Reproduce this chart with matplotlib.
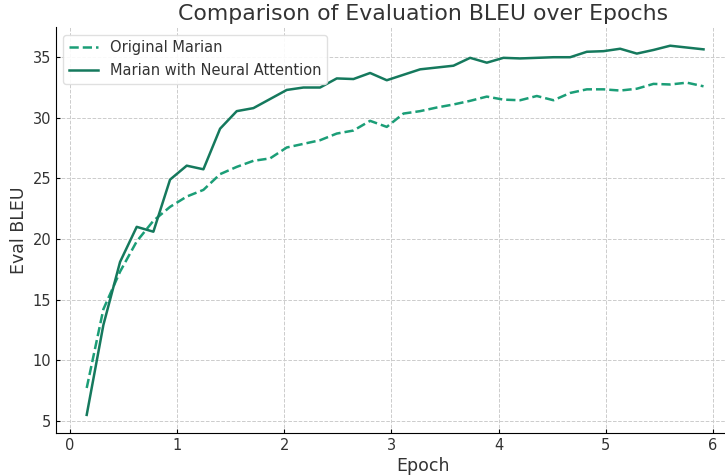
import numpy as np
import matplotlib
matplotlib.use("Agg")
import matplotlib.pyplot as plt

# evaluation points (fractional epochs)
steps = np.arange(1, 39)
epochs = steps * 0.1556

original_bleu = [7.7, 14.2, 17.3, 19.8, 21.5, 22.65, 23.5, 24.05, 25.35, 25.95,
                 26.45, 26.65, 27.55, 27.85, 28.15, 28.7, 28.95, 29.75, 29.25, 30.35,
                 30.55, 30.85, 31.1, 31.4, 31.75, 31.5, 31.45, 31.8, 31.45, 32.05,
                 32.35, 32.35, 32.25, 32.4, 32.8, 32.75, 32.9, 32.6]

attention_bleu = [5.48, 12.9, 18.1, 21.0, 20.6, 24.9, 26.05, 25.75, 29.1, 30.55,
                  30.8, 31.55, 32.3, 32.5, 32.5, 33.25, 33.2, 33.7, 33.1, 33.55,
                  34.0, 34.15, 34.3, 34.95, 34.55, 34.95, 34.9, 34.95, 35.0, 35.0,
                  35.45, 35.5, 35.7, 35.3, 35.6, 35.95, 35.8, 35.65]

text_color = '#333333'

fig = plt.figure(figsize=(7.25, 4.76), dpi=100)
ax = fig.add_axes([56 / 725, 1 - 433.3 / 476, 734 / 725, 406 / 476])

ax.plot(epochs, original_bleu, linestyle='--', color='#1b9e77', linewidth=1.8,
        label='Original Marian')
ax.plot(epochs, attention_bleu, linestyle='-', color='#15795d', linewidth=1.8,
        label='Marian with Neural Attention')

ax.set_xlim(-0.131, 6.72)
ax.set_ylim(3.96, 37.47)
ax.set_xticks([0, 1, 2, 3, 4, 5, 6])
ax.set_yticks([5, 10, 15, 20, 25, 30, 35])

ax.set_title('Comparison of Evaluation BLEU over Epochs', fontsize=15.8,
             color=text_color, pad=5)
ax.set_xlabel('Epoch', fontsize=12.5, color=text_color, labelpad=3)
ax.set_ylabel('Eval BLEU', fontsize=12.5, color=text_color, labelpad=3)
ax.tick_params(labelsize=10.5, labelcolor=text_color, length=3, direction='in')

ax.grid(True, linestyle='--', color='#cccccc', linewidth=0.7)
ax.set_axisbelow(True)
for side in ['top', 'right']:
    ax.spines[side].set_visible(False)

leg = ax.legend(loc='upper left', fontsize=10.5, framealpha=0.9, edgecolor='#dddddd')
for t in leg.get_texts():
    t.set_color(text_color)

fig.savefig('out.png', dpi=100)
